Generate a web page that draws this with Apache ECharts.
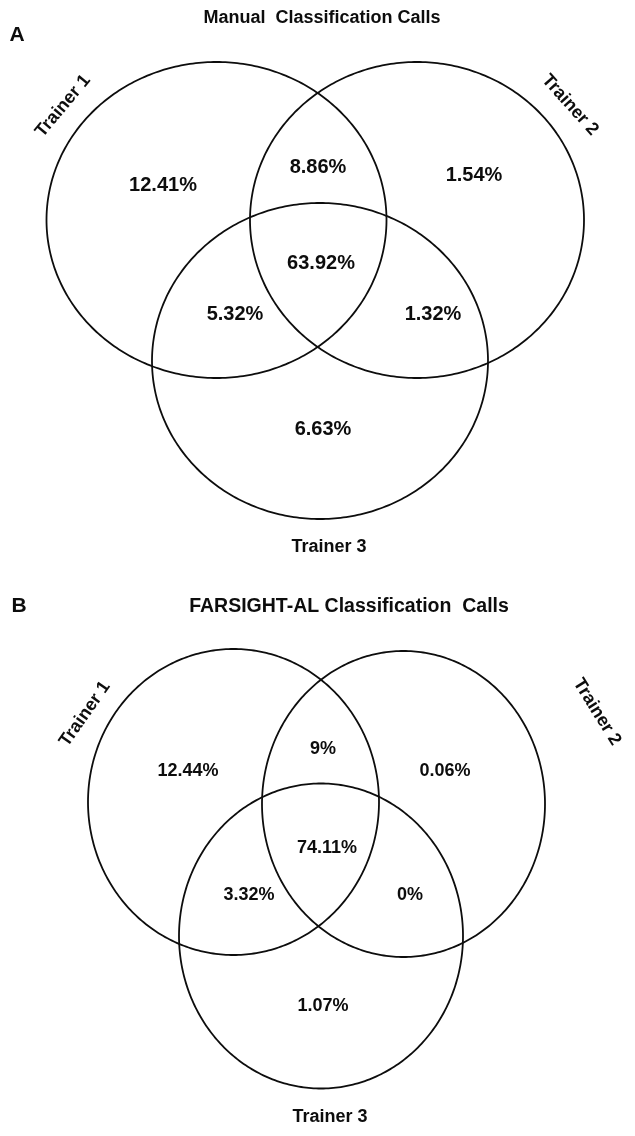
<!DOCTYPE html>
<html><head><meta charset="utf-8">
<script src="https://cdn.jsdelivr.net/npm/echarts@6/dist/echarts.min.js"></script>
<style>html,body{margin:0;padding:0;background:#fff}#c{width:635px;height:1136px}</style>
</head><body><div id="c"></div>
<script>
// ---- data ----
const setNames = ['Trainer 1', 'Trainer 2', 'Trainer 3'];
const regionKeys = ['T1 only', 'T1∩T2', 'T2 only', 'T1∩T2∩T3', 'T1∩T3', 'T2∩T3', 'T3 only'];
const manualValues = [12.41, 8.86, 1.54, 63.92, 5.32, 1.32, 6.63];
const farsightValues = [12.44, 9, 0.06, 74.11, 3.32, 0, 1.07];
const panelTitles = ['Manual  Classification Calls', 'FARSIGHT-AL Classification  Calls'];
const panelLetters = ['A', 'B'];

// ---- layout (panel-local units, 1 unit ~ 1 px) ----
const layouts = [
  {
    circles: [[216.5, 220, 170, 158], [417, 220, 167, 158], [320, 361, 168, 158]],
    regions: [[163, 185], [318, 167], [474, 175], [321, 263], [235, 314], [433, 314], [323, 429]],
    names: [[63, 106, 50], [570, 105, -48], [329, 547, 0]],
    title: [322, 18], titleSize: 18, letter: [17, 35], font: 20
  },
  {
    circles: [[233.5, 234, 145.5, 153], [403.5, 236, 141.5, 153], [321, 368, 142, 152.5]],
    regions: [[188, 203], [323, 181], [445, 203], [327, 280], [249, 327], [410, 327], [323, 438]],
    names: [[85, 146, 55], [597, 144, -58], [330, 549, 0]],
    title: [349, 39], titleSize: 19.5, letter: [19, 38], font: 18
  }
];
const panelValues = [manualValues, farsightValues];
const PANEL_H = 568;
const FONT = '"Liberation Sans", Arial, Helvetica, sans-serif';
const INK = '#0d0d0d';

const chart = echarts.init(document.getElementById('c'), null, {renderer: 'canvas'});

const grids = [], xAxes = [], yAxes = [], series = [], graphics = [];
layouts.forEach((L, p) => {
  grids.push({left: 0, top: p * PANEL_H, width: 635, height: PANEL_H});
  xAxes.push({type: 'value', gridIndex: p, min: 0, max: 635, show: false});
  yAxes.push({type: 'value', gridIndex: p, min: 0, max: PANEL_H, inverse: true, show: false});

  // set circles
  series.push({
    type: 'custom', xAxisIndex: p, yAxisIndex: p, silent: true, clip: false,
    encode: {x: 0, y: 1},
    data: L.circles,
    renderItem: function (params, api) {
      const c = api.coord([api.value(0), api.value(1)]);
      const s = api.size([api.value(2), api.value(3)]);
      const rx = Math.abs(s[0]), ry = Math.abs(s[1]);
      const pts = [];
      for (let i = 0; i < 360; i++) {
        const t = i / 360 * 2 * Math.PI;
        pts.push([c[0] + rx * Math.cos(t), c[1] + ry * Math.sin(t)]);
      }
      return {type: 'polygon', shape: {points: pts},
        style: {fill: 'none', stroke: INK, lineWidth: 1.8}};
    }
  });

  // region percentages
  const vals = panelValues[p];
  series.push({
    type: 'custom', xAxisIndex: p, yAxisIndex: p, silent: true, clip: false,
    encode: {x: 0, y: 1},
    data: L.regions.map((pos, i) => ({name: regionKeys[i], value: [pos[0], pos[1], vals[i]]})),
    renderItem: function (params, api) {
      const c = api.coord([api.value(0), api.value(1)]);
      return {type: 'text', x: c[0], y: c[1],
        style: {text: String(vals[params.dataIndex]) + '%', fontFamily: FONT, fontWeight: 'bold',
          fontSize: L.font, fill: INK, align: 'center', verticalAlign: 'middle'}};
    }
  });

  // set names
  series.push({
    type: 'custom', xAxisIndex: p, yAxisIndex: p, silent: true, clip: false,
    encode: {x: 0, y: 1},
    data: L.names.map((n, i) => ({name: setNames[i], value: [n[0], n[1], n[2]]})),
    renderItem: function (params, api) {
      const c = api.coord([api.value(0), api.value(1)]);
      return {type: 'text', x: c[0], y: c[1], rotation: api.value(2) * Math.PI / 180,
        style: {text: setNames[params.dataIndex], fontFamily: FONT, fontWeight: 'bold',
          fontSize: 18, fill: INK, align: 'center', verticalAlign: 'middle'}};
    }
  });

  graphics.push({
    type: 'text', x: L.title[0], y: p * PANEL_H + L.title[1],
    style: {text: panelTitles[p], fontFamily: FONT, fontWeight: 'bold', fontSize: L.titleSize,
      fill: INK, align: 'center', verticalAlign: 'middle'}
  });
  graphics.push({
    type: 'text', x: L.letter[0], y: p * PANEL_H + L.letter[1],
    style: {text: panelLetters[p], fontFamily: FONT, fontWeight: 'bold', fontSize: 21,
      fill: INK, align: 'center', verticalAlign: 'middle'}
  });
});

chart.setOption({
  animation: false,
  backgroundColor: '#fff',
  grid: grids, xAxis: xAxes, yAxis: yAxes,
  series: series,
  graphic: graphics
});
</script></body></html>
